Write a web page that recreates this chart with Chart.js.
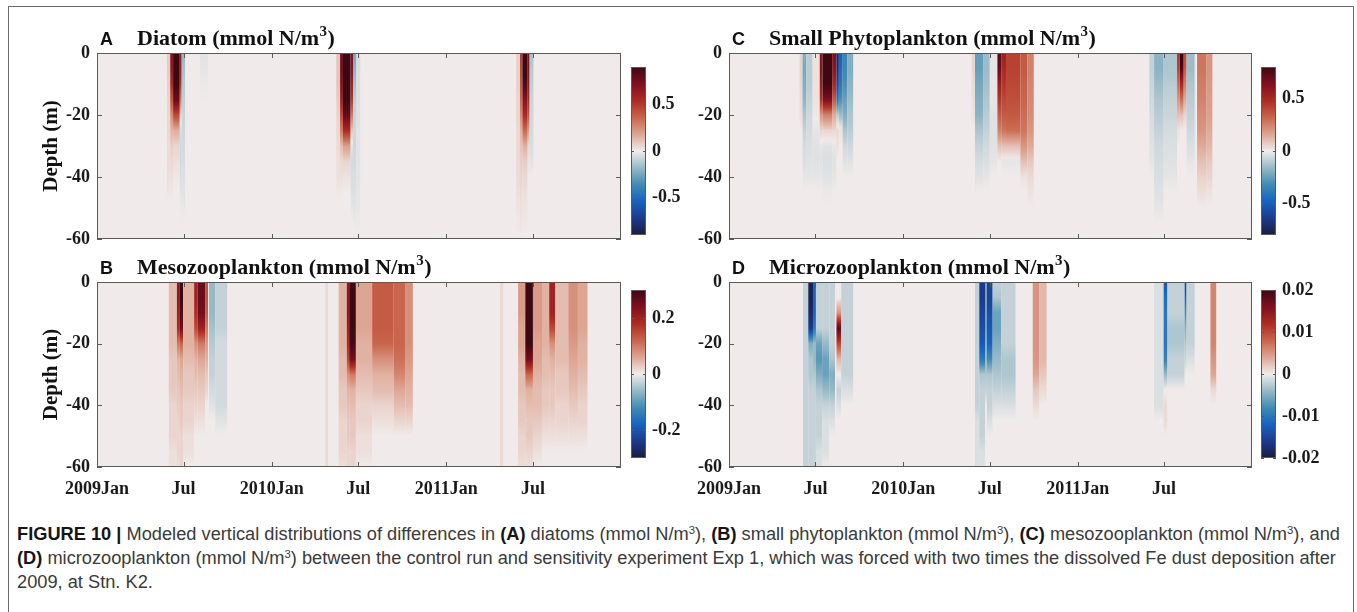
<!DOCTYPE html>
<html lang="en">
<head>
    <meta charset="UTF-8">
    <title>Figure 10 - Exp 1 differences at Stn. K2</title>
    <script src="https://cdn.jsdelivr.net/npm/chart.js"></script>
    <style>
        body { margin: 0; background: #fff; width: 1357px; height: 612px; position: relative; overflow: hidden; }
        .frame { position: absolute; left: 8px; top: 6px; width: 1346px; height: 640px; border: 1.5px solid #6a6a6a; box-sizing: border-box; }
        canvas { position: absolute; }
        #caption { position: absolute; left: 17px; top: 522px; font-family: "Liberation Sans", Arial, sans-serif; font-size: 17.5px; color: #3a3a3a; }
        #caption div { height: 24px; line-height: 24px; white-space: nowrap; transform-origin: left center; }
        #caption b { color: #151515; }
        #caption sup { font-size: 0.62em; vertical-align: baseline; position: relative; top: -0.55em; }
    </style>
</head>
<body>
    <div class="frame"></div>

    <canvas id="panelA" width="628" height="260" style="left:0;top:0"></canvas>
    <canvas id="panelC" width="620" height="260" style="left:640px;top:0"></canvas>
    <canvas id="panelB" width="628" height="262" style="left:0;top:250px"></canvas>
    <canvas id="panelD" width="620" height="262" style="left:640px;top:250px"></canvas>

    <canvas id="barA" width="81" height="210" style="left:625px;top:45px"></canvas>
    <canvas id="barC" width="81" height="210" style="left:1255px;top:45px"></canvas>
    <canvas id="barB" width="81" height="210" style="left:625px;top:268px"></canvas>
    <canvas id="barD" width="81" height="210" style="left:1255px;top:268px"></canvas>

    <div id="caption">
        <div id="capLine1"><b>FIGURE 10 |</b> Modeled vertical distributions of differences in <b>(A)</b> diatoms (mmol N/m<sup>3</sup>), <b>(B)</b> small phytoplankton (mmol N/m<sup>3</sup>), <b>(C)</b> mesozooplankton (mmol N/m<sup>3</sup>), and</div>
        <div><b>(D)</b> microzooplankton (mmol N/m<sup>3</sup>) between the control run and sensitivity experiment Exp 1, which was forced with two times the dissolved Fe dust deposition after</div>
        <div>2009, at Stn. K2.</div>
    </div>

    <script>
        // time axis: days since 2009-01-01, three years shown
        const dayMax = 1095;
        const monthTickDays = [0, 181, 365, 546, 730, 911];
        const monthTickLabels = ['2009Jan', 'Jul', '2010Jan', 'Jul', '2011Jan', 'Jul'];
        // model levels (m), values below are given at these depths, missing = 0
        const depthLevels = [0, 5, 10, 15, 20, 25, 30, 35, 40, 45, 50, 55, 60];

        // (A) diatom difference, mmol N/m3
        const diatomDays = [[146,153],[153,159],[159,173],[173,177],[177,184],[215,232],
            [500,508],[508,514],[514,530],[530,535],[535,542],[542,550],
            [876,884],[884,889],[889,900],[900,904],[904,912]];
        const diatomValues = [
            [0.08,0.08,0.07,0.06,0.05,0.05,0.04,0.04,0.03,0.01],
            [0.7,0.65,0.55,0.4,0.25,0.14,0.08,0.05,0.03,0.01],
            [0.95,0.95,0.9,0.78,0.45,0.16,0.06,0.03,0.01],
            [0.6,0.6,0.5,0.3,0.08,-0.06,-0.07,-0.06,-0.05,-0.03,-0.01],
            [-0.18,-0.15,-0.12,-0.1,-0.08,-0.07,-0.06,-0.05,-0.04,-0.03,-0.01],
            [-0.03,-0.02,-0.01],
            [0.1,0.1,0.1,0.08,0.06,0.05,0.04,0.03,0.03,0.01],
            [0.75,0.75,0.7,0.6,0.45,0.3,0.12,0.05,0.03,0.01],
            [0.95,0.95,0.95,0.9,0.8,0.55,0.2,0.06,0.02],
            [0.7,0.7,0.6,0.5,0.3,0.1,-0.03,-0.06,-0.05,-0.04,-0.02],
            [-0.25,-0.2,-0.15,-0.1,-0.08,-0.07,-0.07,-0.06,-0.05,-0.04,-0.03,-0.01],
            [-0.05,-0.05,-0.04,-0.04,-0.04,-0.03,-0.03,-0.03,-0.03,-0.02,-0.02,-0.01],
            [0.07,0.07,0.07,0.06,0.06,0.05,0.05,0.04,0.04,0.03,0.02,0.01],
            [0.5,0.45,0.4,0.35,0.25,0.15,0.1,0.08,0.06,0.04,0.03,0.02],
            [0.95,0.95,0.85,0.7,0.55,0.35,0.15,0.08,0.05,0.03,0.02,0.01],
            [0.7,0.7,0.65,0.55,0.4,0.2,0.05,0.02],
            [-0.15,-0.12,-0.1,-0.08,-0.07,-0.06,-0.05,-0.03]
        ];

        // (C) small phytoplankton difference
        const smallPhytoDays = [[148,154],[154,162],[162,175],[175,190],[190,196],[196,216],[216,225],
            [225,230],[230,238],[238,248],[248,260],
            [508,515],[515,532],[532,546],[546,562],[562,570],[570,580],[580,610],[610,625],[625,638],
            [880,890],[890,910],[910,938],[938,944],[944,952],[952,958],[958,975],[980,1000],[1000,1012]];
        const smallPhytoValues = [
            [0.06,0.06,0.05,0.04,0.03],
            [-0.2,-0.22,-0.2,-0.18,-0.12,-0.08,-0.05,-0.04,-0.02],
            [-0.1,-0.1,-0.1,-0.08,-0.06,-0.05,-0.04,-0.03,-0.02],
            [0.02,0.02,0.02,0.02,0.01,-0.02,-0.03,-0.03,-0.02],
            [0.6,0.6,0.55,0.45,0.2,0.05,-0.02,-0.03,-0.02],
            [0.85,0.85,0.8,0.65,0.25,0.05,-0.03,-0.04,-0.03,-0.01],
            [0.65,0.6,0.5,0.35,0.15,0.05,-0.02,-0.03,-0.02],
            [-0.75,-0.7,-0.6,-0.4,-0.1,0.05,0.03],
            [-0.5,-0.45,-0.4,-0.3,-0.15,0.02],
            [-0.35,-0.33,-0.3,-0.25,-0.2,-0.12,-0.06,-0.03],
            [-0.2,-0.2,-0.18,-0.15,-0.12,-0.1,-0.06,-0.03],
            [0.05,0.05,0.04,0.03,0.02],
            [-0.25,-0.25,-0.22,-0.2,-0.18,-0.12,-0.08,-0.05,-0.03],
            [-0.15,-0.15,-0.14,-0.12,-0.1,-0.08,-0.06,-0.04,-0.02],
            [-0.02,-0.02,-0.02,-0.02,-0.03,-0.03,-0.03,-0.02],
            [0.75,0.7,0.55,0.45,0.35,0.25,0.1],
            [0.55,0.5,0.45,0.4,0.35,0.28,0.1,-0.02],
            [0.42,0.42,0.4,0.38,0.35,0.3,0.1,-0.02],
            [0.35,0.35,0.33,0.32,0.3,0.28,0.2,0.1,0.02],
            [0.25,0.25,0.24,0.23,0.22,0.2,0.15,0.08,0.04,0.02],
            [-0.08,-0.08,-0.07,-0.06,-0.05,-0.04,-0.03,-0.02],
            [-0.18,-0.18,-0.15,-0.12,-0.1,-0.08,-0.06,-0.05,-0.04,-0.03,-0.02],
            [-0.12,-0.12,-0.1,-0.08,-0.07,-0.05,-0.04,-0.03,-0.02],
            [0.45,0.4,0.3,0.2,0.1,0.02],
            [0.85,0.75,0.5,0.3,0.1],
            [0.4,0.35,0.25,0.15,0.05],
            [-0.15,-0.15,-0.12,-0.1,-0.08,-0.06,-0.04,-0.02],
            [0.28,0.28,0.26,0.25,0.22,0.2,0.15,0.1,0.06,0.03],
            [0.2,0.2,0.19,0.18,0.17,0.15,0.12,0.08,0.05,0.02]
        ];

        // (B) mesozooplankton difference
        const mesoDays = [[150,167],[167,172],[172,180],[180,203],[203,210],[210,226],[226,232],[234,247],[247,272],
            [477,483],[505,522],[522,527],[527,541],[541,575],[575,620],[620,645],[645,660],
            [842,849],[880,895],[895,911],[911,930],[930,945],[945,958],[958,985],[985,1005],[1005,1025]];
        const mesoValues = [
            [0.04,0.04,0.04,0.04,0.04,0.03,0.03,0.03,0.02,0.02,0.02,0.01,0.01],
            [0.22,0.22,0.2,0.18,0.1,0.05,0.04,0.03,0.03,0.02,0.02,0.02,0.01],
            [0.3,0.3,0.28,0.25,0.12,0.06,0.05,0.04,0.03,0.03,0.02,0.02,0.02],
            [0.05,0.05,0.05,0.05,0.05,0.04,0.03,0.03,0.02,0.02,0.01,0.01],
            [0.2,0.2,0.18,0.15,0.08,0.05,0.04,0.03,0.02,0.01],
            [0.26,0.26,0.25,0.2,0.1,0.06,0.04,0.03,0.02,0.01],
            [0.14,0.14,0.13,0.1,0.07,0.05,0.03,0.02],
            [-0.06,-0.06,-0.06,-0.05,-0.04,-0.03,-0.03,-0.02,-0.01],
            [-0.03,-0.03,-0.03,-0.03,-0.02,-0.02,-0.02,-0.02,-0.02,-0.01],
            [0.015,0.015,0.015,0.015,0.015,0.015,0.015,0.015,0.015,0.015,0.015,0.015,0.015],
            [0.05,0.05,0.05,0.05,0.05,0.04,0.04,0.03,0.03,0.02,0.02,0.02,0.01],
            [0.22,0.22,0.22,0.2,0.18,0.15,0.08,0.05,0.04,0.03,0.03,0.02,0.02],
            [0.3,0.3,0.3,0.3,0.29,0.25,0.1,0.05,0.04,0.03,0.03,0.02,0.02],
            [0.06,0.06,0.06,0.06,0.05,0.05,0.04,0.03,0.02,0.02,0.01,0.01],
            [0.13,0.13,0.13,0.13,0.12,0.08,0.05,0.04,0.02,0.01],
            [0.12,0.12,0.12,0.12,0.12,0.11,0.09,0.06,0.04,0.02],
            [0.08,0.08,0.08,0.08,0.08,0.07,0.06,0.05,0.04,0.02],
            [0.015,0.015,0.015,0.015,0.015,0.015,0.015,0.015,0.015,0.015,0.015,0.015,0.015],
            [0.07,0.07,0.07,0.06,0.06,0.05,0.04,0.04,0.03,0.03,0.02,0.02,0.01],
            [0.3,0.3,0.3,0.3,0.3,0.25,0.12,0.05,0.04,0.03,0.03,0.02,0.01],
            [0.07,0.07,0.07,0.07,0.06,0.06,0.05,0.04,0.04,0.03,0.02,0.01],
            [0.05,0.05,0.05,0.05,0.05,0.04,0.04,0.03,0.03,0.02,0.01],
            [0.2,0.2,0.2,0.15,0.08,0.05,0.04,0.03,0.03,0.02,0.01],
            [0.04,0.04,0.04,0.04,0.04,0.04,0.03,0.03,0.02,0.02,0.01],
            [0.08,0.08,0.08,0.08,0.07,0.06,0.05,0.04,0.03,0.02,0.01],
            [0.06,0.06,0.06,0.06,0.05,0.05,0.04,0.03,0.02,0.02,0.01]
        ];

        // (D) microzooplankton difference
        const microDays = [[155,166],[166,176],[176,182],[182,195],[195,210],[210,222],[225,235],[235,260],
            [515,524],[524,536],[536,540],[540,552],[552,570],[570,600],[636,650],[650,665],
            [890,910],[910,918],[918,954],[954,958],[958,975],[1008,1020]];
        const microValues = [
            [-0.002,-0.002,-0.002,-0.002,-0.002,-0.002,-0.002,-0.002,-0.002,-0.002,-0.002,-0.002,-0.002],
            [-0.019,-0.019,-0.018,-0.016,-0.005,-0.003,-0.003,-0.002,-0.002,-0.002,-0.002,-0.002,-0.002],
            [-0.012,-0.012,-0.012,-0.01,-0.004,-0.004,-0.003,-0.002,-0.002,-0.002,-0.002,-0.002,-0.002],
            [-0.002,-0.002,-0.002,-0.002,-0.006,-0.007,-0.005,-0.003,-0.002,-0.002,-0.002,-0.001,-0.001],
            [-0.002,-0.002,-0.002,-0.002,-0.004,-0.006,-0.006,-0.004,-0.002,-0.001,-0.001,-0.001],
            [-0.002,-0.002,-0.002,-0.002,-0.002,-0.003,-0.005,-0.004,-0.002,-0.001],
            [0,0,0.005,0.018,0.01,0.003,0,-0.002,-0.001],
            [-0.002,-0.002,-0.002,-0.002,-0.002,-0.002,-0.002,-0.001],
            [-0.002,-0.002,-0.002,-0.002,-0.002,-0.002,-0.002,-0.002,-0.002,-0.001,-0.001,-0.001,-0.001],
            [-0.016,-0.016,-0.015,-0.014,-0.013,-0.01,-0.003,-0.002,-0.002,-0.002,-0.002,-0.001,-0.001],
            [-0.006,-0.006,-0.006,-0.006,-0.005,-0.004,-0.003,-0.002],
            [-0.015,-0.015,-0.014,-0.013,-0.012,-0.008,-0.003,-0.002,-0.002,-0.001],
            [-0.002,-0.003,-0.006,-0.006,-0.005,-0.004,-0.003,-0.002,-0.001],
            [-0.002,-0.002,-0.002,-0.002,-0.002,-0.003,-0.003,-0.002,-0.001],
            [0.005,0.005,0.005,0.005,0.005,0.005,0.004,0.002,0.001],
            [0.003,0.003,0.003,0.003,0.003,0.003,0.002,0.001],
            [-0.001,-0.001,-0.001,-0.001,-0.001,-0.001,-0.001,-0.001,-0.001],
            [-0.013,-0.011,-0.01,-0.01,-0.01,-0.009,-0.004,0,0.001,0.001],
            [-0.002,-0.002,-0.002,-0.003,-0.003,-0.002,-0.002,0,0,0],
            [-0.015,-0.012,-0.008,-0.005,-0.003,-0.002],
            [-0.002,-0.002,-0.002,-0.002,-0.002,-0.001],
            [0.006,0.006,0.006,0.006,0.006,0.005,0.004,0.001]
        ];

        // colour limits and colorbar ticks
        const diatomLimit = 0.9, smallPhytoLimit = 0.8, mesoLimit = 0.3, microLimit = 0.02;
        const diatomBarTicks = [-0.5, 0, 0.5];
        const smallPhytoBarTicks = [-0.5, 0, 0.5];
        const mesoBarTicks = [-0.2, 0, 0.2];
        const microBarTicks = [-0.02, -0.01, 0, 0.01, 0.02];

        // diverging map (cmocean "balance"-like)
        const balanceStops = [
            [0.0, '#181c43'], [0.1, '#1c3a8c'], [0.2, '#1663c0'], [0.3, '#3f8bb3'], [0.4, '#97b9c6'],
            [0.5, '#f0ebea'], [0.6, '#dea593'], [0.7, '#c8654b'], [0.8, '#ad2b24'], [0.9, '#7e0f20'], [1.0, '#3c0912']
        ].map(([t, h]) => [t, [1, 3, 5].map(i => parseInt(h.substr(i, 2), 16))]);

        function balance(v, limit) {
            const t = Math.min(1, Math.max(0, (v + limit) / (2 * limit)));
            for (let i = 1; i < balanceStops.length; i++) {
                if (t <= balanceStops[i][0]) {
                    const [t0, c0] = balanceStops[i - 1], [t1, c1] = balanceStops[i];
                    const f = (t - t0) / (t1 - t0);
                    const c = c0.map((a, k) => Math.round(a + f * (c1[k] - a)));
                    return `rgb(${c[0]},${c[1]},${c[2]})`;
                }
            }
            return 'rgb(60,9,18)';
        }

        const serif = '"Liberation Serif", "Times New Roman", serif';
        const sans = '"Liberation Sans", Arial, sans-serif';
        const tickFont = { family: serif, size: 18, weight: 'bold' };
        const inkColor = '#1a1a1a';
        const boxColor = '#5a5a5a';

        // draws the depth-time field as vertical strips, then box, inward ticks and labels
        const fieldPlugin = {
            id: 'field',
            beforeDatasetsDraw(chart, args, opts) {
                const { ctx, chartArea: a, scales: { x, y } } = chart;
                ctx.save();
                ctx.beginPath();
                ctx.rect(a.left, a.top, a.width, a.height);
                ctx.clip();
                ctx.fillStyle = balance(0, opts.limit);
                ctx.fillRect(a.left, a.top, a.width, a.height);
                const yTop = y.getPixelForValue(0), yBot = y.getPixelForValue(-60);
                opts.days.forEach((d, i) => {
                    const col = opts.values[i];
                    const x0 = x.getPixelForValue(d[0]), x1 = x.getPixelForValue(d[1]);
                    const g = ctx.createLinearGradient(0, yTop, 0, yBot);
                    for (let k = 0; k < depthLevels.length - 1; k++) {
                        const v0 = col[k] || 0, v1 = col[k + 1] || 0;
                        for (let s = 0; s < 4; s++) {
                            const f = s / 4;
                            const depth = depthLevels[k] + f * (depthLevels[k + 1] - depthLevels[k]);
                            const pos = (y.getPixelForValue(-depth) - yTop) / (yBot - yTop);
                            g.addColorStop(pos, balance(v0 + f * (v1 - v0), opts.limit));
                        }
                    }
                    g.addColorStop(1, balance(col[depthLevels.length - 1] || 0, opts.limit));
                    ctx.fillStyle = g;
                    ctx.fillRect(x0, yTop, x1 - x0, yBot - yTop);
                });
                ctx.restore();
            },
            afterDraw(chart, args, opts) {
                const { ctx, chartArea: a, scales: { x, y } } = chart;
                ctx.save();
                ctx.strokeStyle = boxColor;
                ctx.lineWidth = 1;
                ctx.strokeRect(a.left + 0.5, a.top + 0.5, a.width - 1, a.height - 1);
                ctx.beginPath();
                x.ticks.forEach(t => {
                    const px = Math.round(x.getPixelForValue(t.value)) + 0.5;
                    ctx.moveTo(px, a.bottom); ctx.lineTo(px, a.bottom - 5);
                    ctx.moveTo(px, a.top); ctx.lineTo(px, a.top + 5);
                });
                y.ticks.forEach(t => {
                    const py = Math.round(y.getPixelForValue(t.value)) + 0.5;
                    ctx.moveTo(a.left, py); ctx.lineTo(a.left + 5, py);
                    ctx.moveTo(a.right, py); ctx.lineTo(a.right - 5, py);
                });
                ctx.stroke();

                // panel letter + title with superscript
                const base = a.top - 8;
                ctx.fillStyle = '#111';
                ctx.textBaseline = 'alphabetic';
                ctx.font = `bold 18px ${sans}`;
                ctx.fillText(opts.letter, a.left + 3, base);
                ctx.font = `bold 22px ${serif}`;
                let tx = a.left + 40;
                ctx.fillText(opts.title, tx, base);
                tx += ctx.measureText(opts.title).width;
                ctx.font = `bold 15px ${serif}`;
                ctx.fillText('3', tx + 0.5, base - 9);
                tx += ctx.measureText('3').width + 1;
                ctx.font = `bold 22px ${serif}`;
                ctx.fillText(')', tx, base);

                // y axis title, left column only
                if (opts.depthLabel) {
                    ctx.translate(a.left - 45, (a.top + a.bottom) / 2);
                    ctx.rotate(-Math.PI / 2);
                    ctx.textAlign = 'center';
                    ctx.textBaseline = 'middle';
                    ctx.font = `bold 21px ${serif}`;
                    ctx.fillText('Depth (m)', 0, 0);
                }
                ctx.restore();
            }
        };

        const colorbarPlugin = {
            id: 'colorbar',
            beforeDraw(chart, args, opts) {
                const { ctx, chartArea: a, scales: { y } } = chart;
                const g = ctx.createLinearGradient(0, a.bottom, 0, a.top);
                for (let i = 0; i <= 64; i++) {
                    g.addColorStop(i / 64, balance(-opts.limit + 2 * opts.limit * i / 64, opts.limit));
                }
                ctx.save();
                ctx.fillStyle = g;
                ctx.fillRect(a.left, a.top, a.width, a.height);
                ctx.strokeStyle = boxColor;
                ctx.lineWidth = 1;
                ctx.strokeRect(a.left + 0.5, a.top + 0.5, a.width - 1, a.height - 1);
                ctx.beginPath();
                y.ticks.forEach(t => {
                    const py = Math.round(y.getPixelForValue(t.value)) + 0.5;
                    ctx.moveTo(a.right, py); ctx.lineTo(a.right - 3, py);
                    ctx.moveTo(a.left, py); ctx.lineTo(a.left + 3, py);
                });
                ctx.stroke();
                ctx.restore();
            }
        };

        function makePanel(id, days, values, limit, letter, title, showDates, depthLabel, yWidth, pad) {
            return new Chart(document.getElementById(id), {
                type: 'scatter',
                data: { datasets: [] },
                options: {
                    responsive: false,
                    animation: false,
                    events: [],
                    layout: { padding: pad },
                    plugins: {
                        legend: { display: false },
                        tooltip: { enabled: false },
                        field: { days, values, limit, letter, title, depthLabel }
                    },
                    scales: {
                        x: {
                            type: 'linear', min: 0, max: dayMax,
                            grid: { display: false, drawTicks: false }, border: { display: false },
                            afterBuildTicks: ax => { ax.ticks = monthTickDays.map(v => ({ value: v })); },
                            afterFit: s => { s.height = showDates ? 40 : 0; },
                            ticks: {
                                display: showDates, autoSkip: false, maxRotation: 0, padding: 12,
                                font: tickFont, color: inkColor,
                                callback: (v, i) => monthTickLabels[i]
                            }
                        },
                        y: {
                            type: 'linear', min: -60, max: 0,
                            grid: { display: false, drawTicks: false }, border: { display: false },
                            afterFit: s => { s.width = yWidth; },
                            ticks: { stepSize: 20, padding: 7, font: tickFont, color: inkColor, callback: v => String(v) }
                        }
                    }
                },
                plugins: [fieldPlugin]
            });
        }

        function makeColorbar(id, limit, tickVals) {
            return new Chart(document.getElementById(id), {
                type: 'scatter',
                data: { datasets: [] },
                options: {
                    responsive: false,
                    animation: false,
                    events: [],
                    layout: { padding: { left: 6, right: 0, top: 22, bottom: 20 } },
                    plugins: { legend: { display: false }, tooltip: { enabled: false }, colorbar: { limit } },
                    scales: {
                        x: { display: false },
                        y: {
                            position: 'right', min: -limit, max: limit,
                            grid: { display: false, drawTicks: false }, border: { display: false },
                            afterBuildTicks: ax => { ax.ticks = tickVals.map(v => ({ value: v })); },
                            afterFit: s => { s.width = 60; },
                            ticks: { padding: 6, font: tickFont, color: inkColor, callback: v => String(v) }
                        }
                    }
                },
                plugins: [colorbarPlugin]
            });
        }

        makePanel('panelA', diatomDays, diatomValues, diatomLimit, 'A', 'Diatom (mmol N/m', false, true, 97,
            { left: 0, right: 7, top: 53, bottom: 21 });
        makePanel('panelC', smallPhytoDays, smallPhytoValues, smallPhytoLimit, 'C', 'Small Phytoplankton (mmol N/m', false, false, 89,
            { left: 0, right: 8, top: 53, bottom: 21 });
        makePanel('panelB', mesoDays, mesoValues, mesoLimit, 'B', 'Mesozooplankton (mmol N/m', true, true, 97,
            { left: 0, right: 7, top: 32, bottom: 5 });
        makePanel('panelD', microDays, microValues, microLimit, 'D', 'Microzooplankton (mmol N/m', true, false, 89,
            { left: 0, right: 8, top: 32, bottom: 5 });

        makeColorbar('barA', diatomLimit, diatomBarTicks);
        makeColorbar('barC', smallPhytoLimit, smallPhytoBarTicks);
        makeColorbar('barB', mesoLimit, mesoBarTicks);
        makeColorbar('barD', microLimit, microBarTicks);

        // squeeze caption lines to the column width
        const capLines = document.querySelectorAll('#caption div');
        const first = document.getElementById('capLine1');
        const range = document.createRange();
        range.selectNodeContents(first);
        const natural = range.getBoundingClientRect().width;
        const squeeze = 1323 / natural;
        capLines.forEach(el => { el.style.transform = `scaleX(${squeeze})`; });
    </script>
</body>
</html>
